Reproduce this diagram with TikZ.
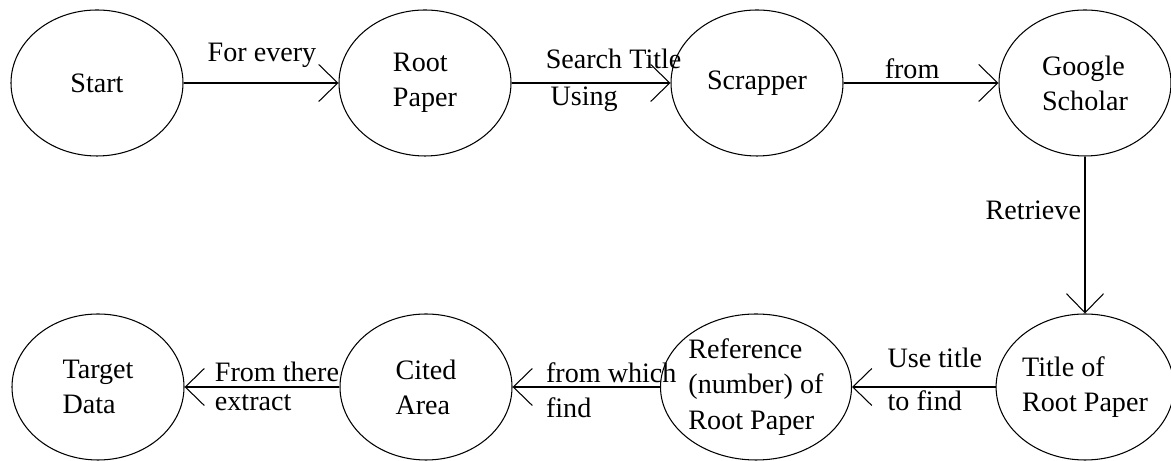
\documentclass[tikz,border=0pt]{standalone}
\usepackage{fontspec}
\setmainfont{Liberation Serif}
\usetikzlibrary{arrows.meta, positioning, shapes.geometric}

\begin{document}
\begin{tikzpicture}[font=\fontsize{16}{20}\selectfont, line width=0.6pt,
  stage/.style={draw, ellipse, minimum width=3.44cm, minimum height=2.92cm, inner sep=0pt, align=left},
  flow/.style={-{Straight Barb[length=0.38cm, width=0.74cm, line width=0.6pt]}},
  lbl/.style={inner sep=2pt}]
\useasboundingbox (0,0) rectangle (23.42,9.22);

% Fila superior
\node[stage] (start) at (1.94,7.56) {Start};
\node[stage] (root) at (8.5,7.56) {Root\\Paper};
\node[stage] (scrapper) at (15.14,7.56) {Scrapper};
\node[stage] (scholar) at (21.7,7.56) {Google\\Scholar};

% Fila inferior
\node[stage] (title) at (21.7,1.48) {Title of\\Root Paper};
\node[stage] (reference) at (15.12,1.48) {Reference\\(number) of\\Root Paper};
\node[stage] (cited) at (8.52,1.48) {Cited\\Area};
\node[stage] (target) at (1.96,1.48) {Target\\Data};

% Flujo
\draw[flow] (start) -- (root) node[lbl, pos=0.13, above right=0.22cm and 0pt] {For every};
\draw[flow] (root) -- (scrapper)
  node[lbl, pos=0.19, above right=0.2cm and 0pt] {Search Title}
  node[lbl, pos=0.22, below right] {Using};
\draw[flow] (scrapper) -- (scholar) node[lbl, pos=0.24, above right] {from};
\draw[flow] (scholar) -- (title) node[lbl, pos=0.34, left] {Retrieve};
\draw[flow] (title) -- (reference)
  node[lbl, pos=0.78, above right=0.3cm and 0pt] {Use title}
  node[lbl, pos=0.78, below right] {to find};
\draw[flow] (reference) -- (cited)
  node[lbl, pos=0.80, above right] {from which}
  node[lbl, pos=0.80, below right=0.14cm and 0pt] {find};
\draw[flow] (cited) -- (target)
  node[lbl, pos=0.83, above right=0.02cm and 0pt] {From there}
  node[lbl, pos=0.83, below right=0.08cm and 0pt] {extract};

\end{tikzpicture}
\end{document}
